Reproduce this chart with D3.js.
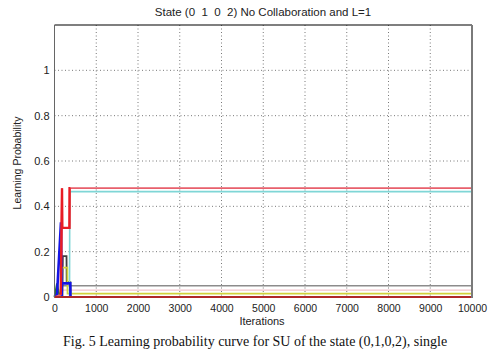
<!DOCTYPE html>
<html>
<head>
<meta charset="utf-8">
<script src="https://cdn.jsdelivr.net/npm/d3@7"></script>
<style>
  body { margin: 0; background: #fff; }
  svg { display: block; }
</style>
</head>
<body>
<svg id="chart" width="493" height="353"></svg>
<script>
// ---- data ----
const xTicks = [0, 1000, 2000, 3000, 4000, 5000, 6000, 7000, 8000, 9000, 10000];
const yTicks = [0, 0.2, 0.4, 0.6, 0.8, 1];
const yTickLabels = ["0", "0.2", "0.4", "0.6", "0.8", "1"];

const darkRedIter = [0, 10000];
const darkRedVals = [0, 0];
const pinkIter = [0, 20, 60, 120, 10000];
const pinkVals = [0, 0.02, 0.03, 0.03, 0.03];
const yellowIter = [0, 170, 182, 308, 312, 10000];
const yellowVals = [0, 0.02, 0.13, 0.13, 0.015, 0.015];
const greyIter = [0, 175, 180, 10000];
const greyVals = [0, 0, 0.05, 0.05];
const blackIter = [0, 190, 200, 288, 292, 380, 384];
const blackVals = [0, 0, 0.18, 0.18, 0.065, 0.065, 0];
const greenIter = [0, 60, 90, 130];
const greenVals = [0, 0.06, 0.03, 0];
const cyanIter = [0, 360, 366, 10000];
const cyanVals = [0, 0, 0.465, 0.465];
const blueIter = [0, 60, 155, 172, 175, 378, 382];
const blueVals = [0, 0.01, 0.33, 0, 0.06, 0.06, 0];
const redIter = [0, 150, 180, 186, 358, 362, 10000];
const redVals = [0, 0.01, 0.48, 0.305, 0.305, 0.48, 0.48];
const brightRedIter = [150, 180, 186, 358, 362, 380];
const brightRedVals = [0.01, 0.48, 0.305, 0.305, 0.48, 0.48];

const series = [
  { name: "pink",   iter: pinkIter,   vals: pinkVals,   color: "#f2c4cc", w: 1.2 },
  { name: "grey",   iter: greyIter,   vals: greyVals,   color: "#8c8c8c", w: 1.5 },
  { name: "black",  iter: blackIter,  vals: blackVals,  color: "#404040", w: 1.8 },
  { name: "yellow", iter: yellowIter, vals: yellowVals, color: "#d2d23c", w: 1.8 },
  { name: "green",  iter: greenIter,  vals: greenVals,  color: "#2a7a2a", w: 1.8 },
  { name: "cyan",   iter: cyanIter,   vals: cyanVals,   color: "#7fd6d6", w: 1.6 },
  { name: "blue",   iter: blueIter,   vals: blueVals,   color: "#1414e6", w: 2.6 },
  { name: "red",    iter: redIter,    vals: redVals,    color: "#e8606c", w: 1.8 },
  { name: "brightRed", iter: brightRedIter, vals: brightRedVals, color: "#e81c24", w: 2.4 },
  { name: "darkred",iter: darkRedIter,vals: darkRedVals,color: "#b02828", w: 2 }
];

// ---- layout ----
const svg = d3.select("#chart");
const L = 54.5, R = 472, T = 25, B = 297;
const x = d3.scaleLinear().domain([0, 10000]).range([L, R]);
const y = d3.scaleLinear().domain([0, 1.2]).range([B, T]);
const font = "'Liberation Sans', Arial, sans-serif";

// grid
const grid = svg.append("g");
grid.selectAll("line.gx").data(xTicks.slice(1, -1)).enter().append("line")
  .attr("x1", d => x(d)).attr("x2", d => x(d)).attr("y1", T).attr("y2", B)
  .attr("stroke", "#555").attr("stroke-width", 0.8).attr("stroke-dasharray", "1,2.5");
grid.selectAll("line.gy").data(yTicks.slice(1)).enter().append("line")
  .attr("x1", L).attr("x2", R).attr("y1", d => y(d)).attr("y2", d => y(d))
  .attr("stroke", "#555").attr("stroke-width", 0.8).attr("stroke-dasharray", "1,2.5");

// series
const line = d3.line().x(d => x(d[0])).y(d => y(d[1]));
svg.append("g").selectAll("path").data(series).enter().append("path")
  .attr("d", s => line(s.iter.map((v, i) => [v, s.vals[i]])))
  .attr("fill", "none").attr("stroke", s => s.color).attr("stroke-width", s => s.w);

// box
svg.append("line").attr("x1", L).attr("x2", R).attr("y1", T).attr("y2", T).attr("stroke", "#000").attr("stroke-width", 1.2);
svg.append("line").attr("x1", L).attr("x2", L).attr("y1", T).attr("y2", B).attr("stroke", "#666").attr("stroke-width", 1);
svg.append("line").attr("x1", R).attr("x2", R).attr("y1", T).attr("y2", B + 1).attr("stroke", "#7a7a7a").attr("stroke-width", 2);

// axes
const xAxis = d3.axisBottom(x).tickValues(xTicks).tickSize(0).tickPadding(7).tickFormat(d3.format("d"));
const gx = svg.append("g").attr("transform", `translate(0,${B + 1})`).call(xAxis);
gx.select(".domain").remove();
gx.selectAll("text").attr("font-family", font).attr("font-size", 10.5).attr("fill", "#222");

const yAxis = d3.axisLeft(y).tickValues(yTicks).tickSize(0).tickPadding(5)
  .tickFormat((d, i) => yTickLabels[i]);
const gy = svg.append("g").attr("transform", `translate(${L},0)`).call(yAxis);
gy.select(".domain").remove();
gy.selectAll("text").attr("font-family", font).attr("font-size", 11).attr("fill", "#222");

// titles
svg.append("text").attr("x", 263).attr("y", 16).attr("text-anchor", "middle")
  .attr("font-family", font).attr("font-size", 11.5).attr("fill", "#222")
  .attr("xml:space", "preserve")
  .text("State (0  1  0  2) No Collaboration and L=1");
svg.append("text").attr("x", 262).attr("y", 325).attr("text-anchor", "middle")
  .attr("font-family", font).attr("font-size", 11).attr("fill", "#222").text("Iterations");
svg.append("text").attr("transform", "translate(21,163) rotate(-90)").attr("text-anchor", "middle")
  .attr("font-family", font).attr("font-size", 10.5).attr("fill", "#222").text("Learning Probability");

// caption
svg.append("text").attr("x", 63).attr("y", 346)
  .attr("font-family", "'Liberation Serif', 'Times New Roman', serif").attr("font-size", 14).attr("fill", "#111")
  .text("Fig. 5 Learning probability curve for SU of the state (0,1,0,2), single");
</script>
</body>
</html>
